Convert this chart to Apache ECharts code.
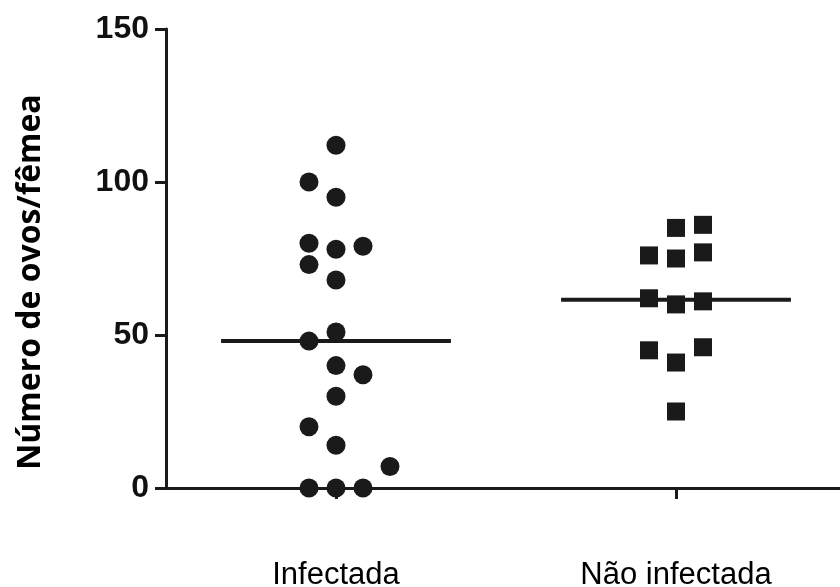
<!DOCTYPE html>
<html>
<head>
<meta charset="utf-8">
<script src="https://cdn.jsdelivr.net/npm/echarts@6/dist/echarts.min.js"></script>
<style>html,body{margin:0;padding:0;background:#fff}#c{width:840px;height:587px}</style>
</head>
<body>
<div id="c"></div>
<script>
// ---- data ----
var categories = ['Infectada', 'Não infectada'];
var yTicks = [0, 50, 100, 150];
var infectadaValues = [112, 100, 95, 80, 79, 78, 73, 68, 51, 48, 40, 37, 30, 20, 14, 7, 0, 0, 0];
var naoInfectadaValues = [86, 85, 77, 76, 75, 62, 61, 60, 46, 45, 41, 25];
// beeswarm column index of each point (horizontal spread used in the figure)
var infectadaSwarm = [0, -1, 0, -1, 1, 0, -1, 0, 0, -1, 0, 1, 0, -1, 0, 2, -1, 0, 1];
var naoInfectadaSwarm = [1, 0, 1, -1, 0, -1, 1, 0, 1, -1, 0, 0];

// ---- layout constants ----
var SWARM_STEP = 27 / 340;   // one swarm column in category units
var MEDIAN_HALF = 0.338;     // half length of the median bar in category units
var INK = '#1a1a1a';

function median(arr) {
  var s = arr.slice().sort(function (a, b) { return a - b; });
  var n = s.length;
  return n % 2 ? s[(n - 1) / 2] : (s[n / 2 - 1] + s[n / 2]) / 2;
}
function swarmPoints(values, swarm, catIdx) {
  return values.map(function (v, i) { return [catIdx + swarm[i] * SWARM_STEP, v]; });
}
function medianLine(values, catIdx) {
  var m = median(values);
  return [[catIdx - MEDIAN_HALF, m], [catIdx + MEDIAN_HALF, m]];
}

var chart = echarts.init(document.getElementById('c'), null, { renderer: 'canvas' });
chart.setOption({
  animation: false,
  backgroundColor: '#ffffff',
  grid: { left: 166, right: -6, top: 29, bottom: 99, containLabel: false, outerBoundsMode: 'none' },
  xAxis: [{
    type: 'category',
    data: categories,
    boundaryGap: true,
    axisLine: { show: true, onZero: false, lineStyle: { color: INK, width: 3 } },
    axisTick: { show: true, alignWithLabel: true, inside: false, length: 11, lineStyle: { color: INK, width: 3 } },
    axisLabel: { margin: 72, color: '#000', fontFamily: 'Liberation Sans, Arial, sans-serif', fontSize: 31 },
    splitLine: { show: false }
  }, {
    type: 'value', min: -0.5, max: 1.5, show: false
  }],
  yAxis: {
    type: 'value', min: 0, max: 150, interval: 50,
    axisLine: { show: true, onZero: false, lineStyle: { color: INK, width: 3 } },
    axisTick: { show: true, length: 11, lineStyle: { color: INK, width: 3 } },
    axisLabel: {
      margin: 17, color: '#111', fontWeight: 'bold',
      fontFamily: 'Liberation Sans, Arial, sans-serif', fontSize: 32,
      customValues: yTicks
    },
    splitLine: { show: false }
  },
  graphic: [{
    type: 'text',
    x: 31, y: 282,
    rotation: Math.PI / 2,
    style: {
      text: 'Número de ovos/fêmea',
      fill: '#000',
      font: 'bold 32px "Open Sans", Lato, sans-serif',
      textAlign: 'center',
      textVerticalAlign: 'middle'
    }
  }],
  series: [{
    type: 'scatter', xAxisIndex: 1,
    symbol: 'circle', symbolSize: 19,
    itemStyle: { color: INK, opacity: 1 },
    data: swarmPoints(infectadaValues, infectadaSwarm, 0),
    z: 3
  }, {
    type: 'scatter', xAxisIndex: 1,
    symbol: 'rect', symbolSize: 18,
    itemStyle: { color: INK, opacity: 1 },
    data: swarmPoints(naoInfectadaValues, naoInfectadaSwarm, 1),
    z: 3
  }, {
    type: 'line', xAxisIndex: 1, symbol: 'none',
    lineStyle: { color: INK, width: 4 },
    data: medianLine(infectadaValues, 0), z: 4
  }, {
    type: 'line', xAxisIndex: 1, symbol: 'none',
    lineStyle: { color: INK, width: 4 },
    data: medianLine(naoInfectadaValues, 1), z: 4
  }]
});
</script>
</body>
</html>
